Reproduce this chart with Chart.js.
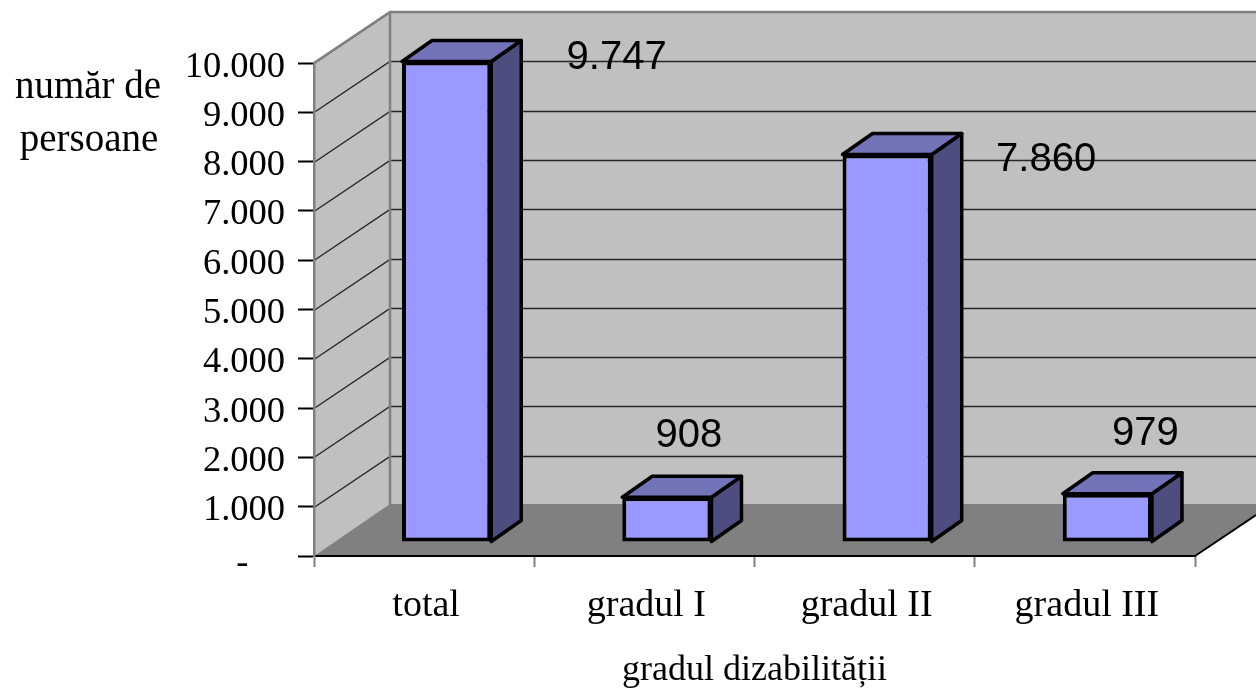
<!DOCTYPE html>
<html>
<head>
<meta charset="utf-8">
<style>html,body{margin:0;padding:0;background:#fff}canvas{display:block}</style>
<script src="https://cdn.jsdelivr.net/npm/chart.js@4"></script>
</head>
<body>
<canvas id="c" width="1256" height="688"></canvas>
<script>
const categories = ['total', 'gradul I', 'gradul II', 'gradul III'];
const values = [9747, 908, 7860, 979];
const valueLabels = ['9.747', '908', '7.860', '979'];
const tickLabels = ['-\u00a0\u00a0\u00a0\u00a0', '1.000', '2.000', '3.000', '4.000', '5.000', '6.000', '7.000', '8.000', '9.000', '10.000'];
const yTitleLines = ['număr de', 'persoane'];
const xTitle = 'gradul dizabilității';

const serif = '"Liberation Serif", serif';
const sans = '"Liberation Sans", sans-serif';
const wall = {dx: 76, dy: -51};
const barShift = {dx: 22.5, dy: -14};
const barDepth = {dx: 30, dy: -21};
const labelShift = [[170, -4], [22, -61], [159, 5], [38, -60]];

function poly(ctx, pts, fill, stroke, lw) {
  ctx.beginPath();
  pts.forEach((p, i) => i ? ctx.lineTo(p[0], p[1]) : ctx.moveTo(p[0], p[1]));
  ctx.closePath();
  if (fill) { ctx.fillStyle = fill; ctx.fill(); }
  if (stroke) { ctx.strokeStyle = stroke; ctx.lineWidth = lw; ctx.lineJoin = 'round'; ctx.stroke(); }
}

const scene3d = {
  id: 'scene3d',
  beforeDraw(chart) {
    const {ctx, chartArea: a, scales: {y, x}} = chart;
    const W = chart.width;
    const y0 = y.getPixelForValue(0), yT = y.getPixelForValue(10000);
    const bx = a.left + wall.dx;
    y.getLabelItems(a).forEach((item, i) => {
      if (item.shifted) return;
      item.shifted = true;
      item.options.translation = [item.options.translation[0], item.options.translation[1] + (i === 0 ? 7 : 4)];
    });
    x.getLabelItems(a).forEach(item => {
      if (item.shifted) return;
      item.shifted = true;
      item.options.translation = [item.options.translation[0] + 2, item.options.translation[1]];
    });
    ctx.save();
    ctx.fillStyle = '#c0c0c0';
    ctx.fillRect(bx, yT + wall.dy, W - bx, y0 - yT);
    poly(ctx, [[a.left, yT], [bx, yT + wall.dy], [bx, y0 + wall.dy], [a.left, y0]], '#c0c0c0');
    const slope = wall.dy / wall.dx;
    poly(ctx, [[a.left, y0], [bx, y0 + wall.dy - 1], [W, y0 + wall.dy - 1], [W, y0 + (W - a.right) * slope], [a.right, y0]], '#808080');
    ctx.strokeStyle = '#262626';
    ctx.lineWidth = 1.4;
    y.ticks.forEach(t => {
      if (t.value === 0) return;
      const py = Math.round(y.getPixelForValue(t.value)) + 0.5;
      ctx.beginPath();
      ctx.moveTo(a.left, py);
      ctx.lineTo(bx, py + wall.dy);
      if (t.value < 10000) ctx.lineTo(W, py + wall.dy);
      ctx.stroke();
    });
    ctx.strokeStyle = '#808080';
    ctx.lineWidth = 2.5;
    ctx.beginPath();
    ctx.moveTo(a.left, yT);
    ctx.lineTo(bx, yT + wall.dy);
    ctx.lineTo(W, yT + wall.dy);
    ctx.moveTo(bx, yT + wall.dy);
    ctx.lineTo(bx, y0 + wall.dy);
    ctx.stroke();
    ctx.strokeStyle = '#000';
    ctx.lineWidth = 2;
    ctx.beginPath();
    ctx.moveTo(a.right, y0);
    ctx.lineTo(W, y0 + (W - a.right) * slope);
    ctx.stroke();
    ctx.restore();
  },
  beforeDatasetDraw(chart, args) {
    const {ctx} = chart;
    const meta = chart.getDatasetMeta(args.index);
    ctx.save();
    ctx.translate(barShift.dx, barShift.dy);
    meta.data.forEach(b => {
      const l = b.x - b.width / 2, r = b.x + b.width / 2, t = b.y, bt = b.base;
      const {dx, dy} = barDepth;
      poly(ctx, [[r, t], [r + dx, t + dy], [r + dx, bt + dy], [r, bt]], '#4d4d80', '#000', 3.5);
      poly(ctx, [[l, t], [l + dx, t + dy], [r + dx, t + dy], [r, t]], '#7373b9', '#000', 3.5);
    });
  },
  afterDatasetDraw(chart) {
    chart.ctx.restore();
  },
  afterDraw(chart) {
    const {ctx} = chart;
    const meta = chart.getDatasetMeta(0);
    ctx.save();
    ctx.fillStyle = '#000';
    ctx.textBaseline = 'middle';
    ctx.textAlign = 'center';
    ctx.font = '40px ' + sans;
    meta.data.forEach((b, i) => {
      ctx.fillText(valueLabels[i], b.x + barShift.dx + labelShift[i][0], b.y + barShift.dy + labelShift[i][1]);
    });
    ctx.font = '39px ' + serif;
    ctx.fillText(yTitleLines[0], 88, 88);
    ctx.fillText(yTitleLines[1], 89, 141);
    ctx.restore();
  }
};

new Chart(document.getElementById('c'), {
  type: 'bar',
  data: {
    labels: categories,
    datasets: [{
      data: values,
      backgroundColor: '#9999ff',
      borderColor: '#000',
      borderWidth: 4,
      borderSkipped: false,
      categoryPercentage: 0.405,
      barPercentage: 1
    }]
  },
  options: {
    responsive: false,
    animation: false,
    devicePixelRatio: 1,
    layout: {padding: {top: 63, right: 61, bottom: 0, left: 0}},
    plugins: {legend: {display: false}, title: {display: false}, tooltip: {enabled: false}},
    scales: {
      x: {
        afterFit(s) { s.height = 132; },
        grid: {drawOnChartArea: false, drawTicks: true, tickLength: 11, tickColor: '#808080', tickWidth: 2},
        border: {color: '#000', width: 2},
        ticks: {color: '#000', font: {family: serif, size: 38}, padding: 16, maxRotation: 0, autoSkip: false},
        title: {display: true, text: xTitle, color: '#000', font: {family: serif, size: 36}, padding: {top: 0, bottom: -4}}
      },
      y: {
        min: 0,
        max: 10000,
        afterFit(s) { s.width = 314; },
        grid: {drawOnChartArea: false, drawTicks: true, tickLength: 16, tickColor: '#000', tickWidth: 2},
        border: {color: '#808080', width: 2.5},
        ticks: {
          stepSize: 1000,
          color: '#000',
          padding: 13,
          font: {family: serif, size: 36.5},
          callback(v) { return tickLabels[Math.round(v / 1000)]; }
        }
      }
    }
  },
  plugins: [scene3d]
});
</script>
</body>
</html>
